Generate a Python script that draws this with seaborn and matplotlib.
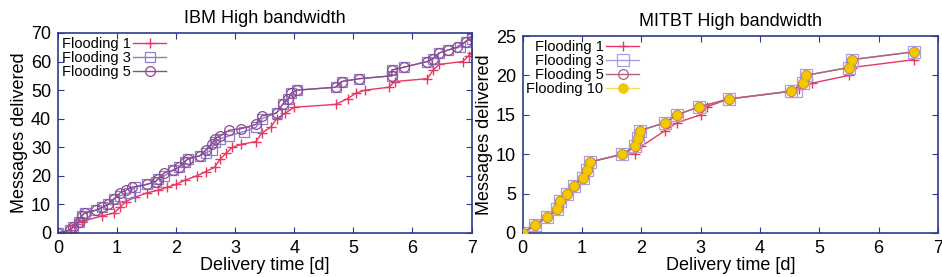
import seaborn as sns
import matplotlib.pyplot as plt

# IBM High bandwidth
ibm_f1_t = [0, 0.2, 0.3, 0.4, 0.75, 0.95, 1.05, 1.15, 1.3, 1.5, 1.7, 1.85, 2.0, 2.15,
            2.35, 2.5, 2.65, 2.75, 2.85, 2.95, 3.1, 3.35, 3.45, 3.6, 3.7, 3.85, 4.0,
            4.7, 4.9, 5.05, 5.2, 5.6, 5.7, 6.25, 6.35, 6.45, 6.85, 6.95, 7.0]
ibm_f1_n = [0, 1, 3, 4, 6, 7, 9, 11, 12.5, 14, 15, 16, 17, 18.5,
            20, 21.5, 23, 26, 28, 30, 31, 32, 35, 37, 40, 42, 44,
            45, 47, 49, 50, 51, 53, 54, 57, 59, 60, 62, 63]
ibm_f3_t = [0, 0.2, 0.25, 0.35, 0.4, 0.45, 0.65, 0.75, 0.85, 0.95, 1.05, 1.2, 1.3,
            1.5, 1.65, 1.7, 1.8, 1.95, 2.05, 2.15, 2.2, 2.4, 2.5, 2.6, 2.65, 2.75,
            2.9, 3.15, 3.35, 3.45, 3.7, 3.8, 3.9, 3.95, 4.05, 4.7, 4.8, 5.1, 5.65,
            5.65, 5.85, 6.25, 6.35, 6.45, 6.6, 6.8, 6.9, 7.0]
ibm_f3_n = [0, 1, 2, 4, 6, 7, 8, 9, 10, 12, 13, 14, 16,
            17, 18, 19, 20, 22, 23, 25, 26, 27, 28, 29, 32, 33,
            34, 35.5, 37, 40, 42, 45, 47, 49, 50, 51, 53, 54, 55,
            57, 58, 60, 61, 63, 64, 65, 67, 68]
ibm_f5_t = [0, 0.2, 0.25, 0.35, 0.4, 0.45, 0.65, 0.75, 0.85, 0.95, 1.05, 1.15, 1.25,
            1.5, 1.65, 1.7, 1.8, 1.95, 2.05, 2.15, 2.2, 2.4, 2.5, 2.6, 2.65, 2.75,
            2.9, 3.1, 3.35, 3.45, 3.7, 3.8, 3.9, 3.95, 4.05, 4.7, 4.8, 5.1, 5.65,
            5.65, 5.85, 6.25, 6.35, 6.45, 6.6, 6.75, 6.9, 7.0]
ibm_f5_n = [0, 1, 2, 4, 6, 7, 8, 9, 10, 12, 14, 15, 16,
            17, 18, 19, 21, 22, 23, 25, 26, 27, 29, 31, 33, 34,
            36, 36.5, 38, 41, 42, 45, 47, 49, 50, 51, 53, 54, 55,
            57, 58, 60, 61, 63, 64, 65, 67, 69]

# MITBT High bandwidth
mit_f1_t = [0, 0.2, 0.4, 0.58, 0.63, 0.75, 0.87, 1.02, 1.08, 1.13, 1.68, 1.9, 2.0,
            2.4, 2.6, 3.0, 3.1, 3.47, 4.53, 4.65, 4.87, 5.5, 5.55, 6.6]
mit_f1_n = [0, 1, 2, 3, 4, 5, 6, 7, 8, 9, 10, 10, 11,
            13, 14, 15, 16, 17, 18, 18.3, 19, 20, 21, 22]
mit_f3_t = [0, 0.2, 0.4, 0.58, 0.63, 0.75, 0.87, 1.02, 1.08, 1.13, 1.68, 1.9, 1.95,
            1.98, 2.4, 2.6, 2.97, 3.47, 4.53, 4.6, 4.72, 4.77, 5.5, 5.55, 6.6]
mit_f3_n = [0, 1, 2, 3, 4, 5, 6, 7, 8, 9, 10, 11, 12,
            13, 14, 15, 16, 17, 18, 18, 19, 20, 21, 22, 23]
mit_f5_t = [0, 0.2, 0.4, 0.58, 0.63, 0.75, 0.87, 1.02, 1.08, 1.13, 1.68, 1.9, 1.95,
            1.98, 2.4, 2.6, 2.97, 3.47, 4.53, 4.72, 4.77, 5.5, 5.55, 6.6]
mit_f5_n = [0, 1, 2, 3, 4, 5, 6, 7, 8, 9, 10, 11, 12,
            13, 14, 15, 16, 17, 18, 19, 20, 21, 22, 23]
mit_f10_t = mit_f5_t
mit_f10_n = mit_f5_n

frame_col = '#2b3990'
c1 = '#e8385f'
c3 = '#8a7fd0'
c5 = '#8e4a8c'
c10 = '#f2c800'

plt.rcParams['font.family'] = ['Liberation Sans', 'DejaVu Sans']
fig = plt.figure(figsize=(9.42, 2.77), dpi=100)
ax1 = fig.add_axes([0.0616, 0.159, 0.439, 0.722])
ax2 = fig.add_axes([0.555, 0.159, 0.4406, 0.711])


def draw(ax, t, n, label, marker, color, lcolor, fill='none', ms=7, mew=0.9, z=2):
    sns.lineplot(x=t, y=n, ax=ax, sort=False, estimator=None, label=label,
                 color=lcolor, linewidth=1.0, marker=marker, markersize=ms,
                 markerfacecolor=fill, markeredgecolor=color, markeredgewidth=mew,
                 zorder=z)


draw(ax1, ibm_f1_t, ibm_f1_n, 'Flooding 1', '+', c1, c1, ms=7, mew=1.0)
draw(ax1, ibm_f3_t, ibm_f3_n, 'Flooding 3', 's', c3, c3)
draw(ax1, ibm_f5_t, ibm_f5_n, 'Flooding 5', 'o', c5, c5)

draw(ax2, mit_f1_t, mit_f1_n, 'Flooding 1', '+', c1, c1, ms=7, mew=1.0)
draw(ax2, mit_f3_t, mit_f3_n, 'Flooding 3', 's', '#a89ee0', '#a89ee0', ms=8)
draw(ax2, mit_f5_t, mit_f5_n, 'Flooding 5', 'o', '#b0607a', '#b0607a')
# yellow line sits underneath, dots on top
draw(ax2, mit_f10_t, mit_f10_n, 'Flooding 10', 'o', c10, '#f5dc60',
     fill=c10, ms=7, mew=0.5, z=1.5)
sns.scatterplot(x=mit_f10_t, y=mit_f10_n, ax=ax2, color=c10, s=46,
                edgecolor='#e8b400', linewidth=0.5, zorder=3, legend=False)

for ax, title, ymax, ystep in [(ax1, 'IBM High bandwidth', 70, 10),
                               (ax2, 'MITBT High bandwidth', 25, 5)]:
    ax.set_xlim(0, 7)
    ax.set_ylim(0, ymax)
    ax.set_xticks(range(0, 8))
    ax.set_yticks(range(0, ymax + 1, ystep))
    ax.tick_params(direction='in', top=True, right=True, labelsize=13,
                   color=frame_col, length=4, pad=5)
    for s in ax.spines.values():
        s.set_color(frame_col)
        s.set_linewidth(1.2)
    ax.set_title(title, fontsize=13, pad=7)
    ax.set_xlabel('Delivery time [d]', fontsize=13, labelpad=0)
    ax.set_ylabel('Messages delivered', fontsize=13, labelpad=2)
    ax.legend(loc='upper left', frameon=False, markerfirst=False, fontsize=10.5,
              handlelength=2.2, handletextpad=0.2, labelspacing=0.0,
              borderaxespad=0.1, borderpad=0.15)

fig.savefig('out.png', dpi=100)
